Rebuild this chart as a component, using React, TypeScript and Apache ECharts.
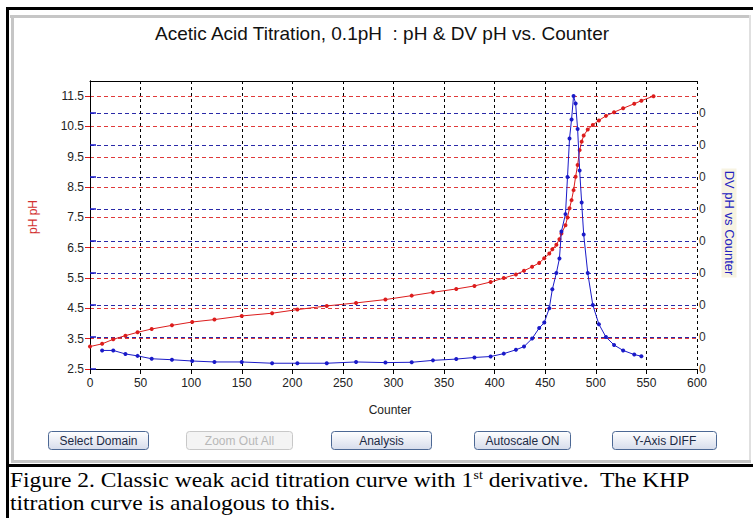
import React, { useEffect, useRef } from "react";
import * as echarts from "echarts";

const titleText = "Acetic Acid Titration, 0.1pH  : pH & DV pH vs. Counter";
const xAxisName = "Counter";
const leftAxisName = "pH pH";
const rightAxisName = "DV pH vs Counter";
const buttonLabels = ["Select Domain", "Zoom Out All", "Analysis", "Autoscale ON", "Y-Axis DIFF"];
const buttonEnabled = [true, false, true, true, true];
const captionLine1a = "Figure 2. Classic weak acid titration curve with 1";
const captionSup = "st";
const captionLine1b = " derivative.  The KHP";
const captionLine2 = "titration curve is analogous to this.";

const counter = [
  0, 12, 23, 35, 47, 61, 81, 101, 123, 150, 180, 205, 234, 263, 292, 318, 339, 362, 380, 396,
  409, 421, 429, 437, 444, 449, 454, 457, 461, 464, 466, 470, 472, 474, 476, 478, 480, 482, 484,
  486, 488, 492, 497, 503, 510, 518, 527, 538, 545, 557,
];
const phValues = [
  3.24, 3.33, 3.48, 3.6, 3.71, 3.82, 3.94, 4.05, 4.13, 4.25, 4.34, 4.46, 4.58, 4.68, 4.79, 4.92,
  5.03, 5.14, 5.24, 5.37, 5.5, 5.62, 5.74, 5.87, 6.0, 6.15, 6.31, 6.45, 6.6, 6.78, 6.97, 7.24,
  7.5, 7.8, 8.07, 8.4, 8.84, 9.23, 9.72, 10.0, 10.2, 10.4, 10.55, 10.7, 10.85, 10.97, 11.1,
  11.25, 11.35, 11.5,
];
const dvValues: (number | null)[] = [
  null, 0.058, 0.058, 0.047, 0.041, 0.032, 0.029, 0.025, 0.022, 0.022, 0.018, 0.018, 0.018,
  0.022, 0.02, 0.021, 0.027, 0.031, 0.036, 0.039, 0.048, 0.06, 0.07, 0.095, 0.128, 0.145, 0.19,
  0.249, 0.3, 0.345, 0.43, 0.484, 0.6, 0.72, 0.78, 0.853, 0.83, 0.75, 0.62, 0.52, 0.42, 0.3,
  0.2, 0.14, 0.1, 0.075, 0.058, 0.045, 0.04, null,
];
const rightTickLabel = "0";

const SANS = "'Liberation Sans', Arial, sans-serif";
const SERIF = "'Liberation Serif', 'Times New Roman', serif";
const RED = "#dc1c1c";
const BLUE = "#1a1ac8";

export default function App() {
  const ref = useRef<HTMLDivElement>(null);
  useEffect(() => {
    if (!ref.current) return;
    const chart = echarts.init(ref.current, null, { renderer: "svg" });

    const phData = counter.map((c, i) => [c, phValues[i]]);
    const dvData = counter
      .map((c, i) => (dvValues[i] == null ? null : [c, dvValues[i] as number]))
      .filter((d) => d !== null);

    const btnCenters = [98, 239, 381, 522, 664];
    const btnWidths = [100, 106, 100, 96, 104];
    const buttons = buttonLabels.map((label, i) => {
      const en = buttonEnabled[i];
      const w = btnWidths[i];
      return {
        type: "group",
        x: btnCenters[i] - w / 2,
        y: 431,
        children: [
          {
            type: "rect",
            shape: { x: 0.5, y: 0.5, width: w, height: 18, r: 3 },
            style: {
              fill: en
                ? new echarts.graphic.LinearGradient(0, 0, 0, 1, [
                    { offset: 0, color: "#ffffff" },
                    { offset: 1, color: "#d6dceb" },
                  ])
                : "#f4f4f4",
              stroke: en ? "#4c6894" : "#c8c8c8",
              lineWidth: 1,
            },
          },
          {
            type: "text",
            x: w / 2 + 0.5,
            y: 9.5,
            style: {
              text: label,
              fontSize: 12,
              fontFamily: SANS,
              fill: en ? "#1c2a44" : "#b8b8b8",
              align: "center",
              verticalAlign: "middle",
            },
          },
        ],
      };
    });

    const frame = [
      { type: "rect", shape: { x: 6, y: 7, width: 747, height: 3 }, style: { fill: "#000" } },
      { type: "rect", shape: { x: 6, y: 7, width: 3, height: 511 }, style: { fill: "#000" } },
      { type: "rect", shape: { x: 6, y: 464, width: 747, height: 3 }, style: { fill: "#000" } },
      { type: "rect", shape: { x: 10, y: 15, width: 740, height: 3 }, style: { fill: "#c6c6c6" } },
      { type: "rect", shape: { x: 11, y: 15, width: 3, height: 447 }, style: { fill: "#c6c6c6" } },
      { type: "rect", shape: { x: 749, y: 15, width: 2, height: 447 }, style: { fill: "#e0e0e0" } },
      { type: "rect", shape: { x: 11, y: 460, width: 740, height: 3 }, style: { fill: "#c6c6c6" } },
    ];

    chart.setOption({
      animation: false,
      backgroundColor: "#ffffff",
      grid: { left: 90, top: 81, width: 607, height: 288, containLabel: false },
      xAxis: [
        {
          type: "value",
          min: 0,
          max: 600,
          interval: 50,
          position: "bottom",
          axisLine: { show: true, lineStyle: { color: "#000", width: 1 } },
          axisTick: { show: true, length: 5, lineStyle: { color: "#000" } },
          axisLabel: { color: "#222", fontSize: 12, fontFamily: SANS, margin: 8 },
          splitLine: { show: true, lineStyle: { color: "#000", type: [3, 3], width: 1 } },
        },
        {
          type: "value",
          min: 0,
          max: 600,
          interval: 50,
          position: "top",
          axisLine: { show: true, lineStyle: { color: "#000", width: 1 } },
          axisTick: { show: true, inside: true, length: 3, lineStyle: { color: "#000" } },
          axisLabel: { show: false },
          splitLine: { show: false },
        },
      ],
      yAxis: [
        {
          type: "value",
          position: "left",
          min: 2.5,
          max: 12,
          interval: 1,
          axisLine: { show: true, lineStyle: { color: "#000", width: 1 } },
          axisTick: { show: true, length: 5, lineStyle: { color: RED } },
          axisLabel: {
            color: "#222",
            fontSize: 12,
            fontFamily: SANS,
            margin: 6,
            showMaxLabel: false,
            formatter: (v: number) => v.toFixed(1),
          },
          splitLine: { show: true, lineStyle: { color: "#e03a3a", type: [4, 3], width: 1 } },
        },
        {
          type: "value",
          position: "right",
          min: 0,
          max: 0.9,
          interval: 0.1,
          axisLine: { show: true, lineStyle: { color: "#000", width: 1 } },
          axisTick: { show: true, length: 6, lineStyle: { color: BLUE, width: 1.5 } },
          axisLabel: {
            color: "#333",
            fontSize: 12,
            fontFamily: SANS,
            margin: 2,
            showMaxLabel: false,
            formatter: () => rightTickLabel,
          },
          splitLine: { show: true, lineStyle: { color: "#2a2aa8", type: [4, 3], width: 1 } },
        },
      ],
      series: [
        {
          type: "line",
          name: "pH",
          xAxisIndex: 0,
          yAxisIndex: 0,
          data: phData,
          symbol: "circle",
          symbolSize: 4,
          lineStyle: { color: RED, width: 1 },
          itemStyle: { color: RED },
          z: 3,
        },
        {
          type: "line",
          name: "DV pH",
          xAxisIndex: 0,
          yAxisIndex: 1,
          data: dvData,
          symbol: "circle",
          symbolSize: 4,
          lineStyle: { color: BLUE, width: 1 },
          itemStyle: { color: BLUE },
          z: 4,
        },
      ],
      graphic: [
        ...frame,
        {
          type: "text",
          x: 382,
          y: 33,
          style: {
            text: titleText,
            fontSize: 19,
            fontFamily: SANS,
            fill: "#111",
            align: "center",
            verticalAlign: "middle",
          },
        },
        {
          type: "text",
          x: 390,
          y: 410,
          style: {
            text: xAxisName,
            fontSize: 12,
            fontFamily: SANS,
            fill: "#222",
            align: "center",
            verticalAlign: "middle",
          },
        },
        {
          type: "text",
          x: 33,
          y: 217,
          rotation: Math.PI / 2,
          style: {
            text: leftAxisName,
            fontSize: 12,
            fontFamily: SANS,
            fill: "#d23030",
            align: "center",
            verticalAlign: "middle",
          },
        },
        {
          type: "text",
          x: 729,
          y: 223,
          rotation: -Math.PI / 2,
          style: {
            text: rightAxisName,
            fontSize: 13,
            fontFamily: SANS,
            fill: "#2222c0",
            align: "center",
            verticalAlign: "middle",
            backgroundColor: "#f7f3e2",
            padding: [1, 2],
          },
        },
        ...buttons,
        {
          type: "text",
          x: 10,
          y: 468,
          scaleX: 1.07,
          style: {
            text:
              "{n|" + captionLine1a + "}{s|" + captionSup + "}{n|" + captionLine1b + "}\n{n|" + captionLine2 + "}",
            fill: "#000",
            fontFamily: SERIF,
            fontSize: 22,
            rich: {
              n: { fontSize: 22, fontFamily: SERIF, fill: "#000", lineHeight: 23 },
              s: { fontSize: 13, fontFamily: SERIF, fill: "#000", lineHeight: 23, verticalAlign: "top" },
            },
          },
        },
      ],
    });

    return () => chart.dispose();
  }, []);

  return (
    <div
      ref={ref}
      style={{ position: "absolute", left: 0, top: 0, width: 753, height: 518 }}
    />
  );
}
